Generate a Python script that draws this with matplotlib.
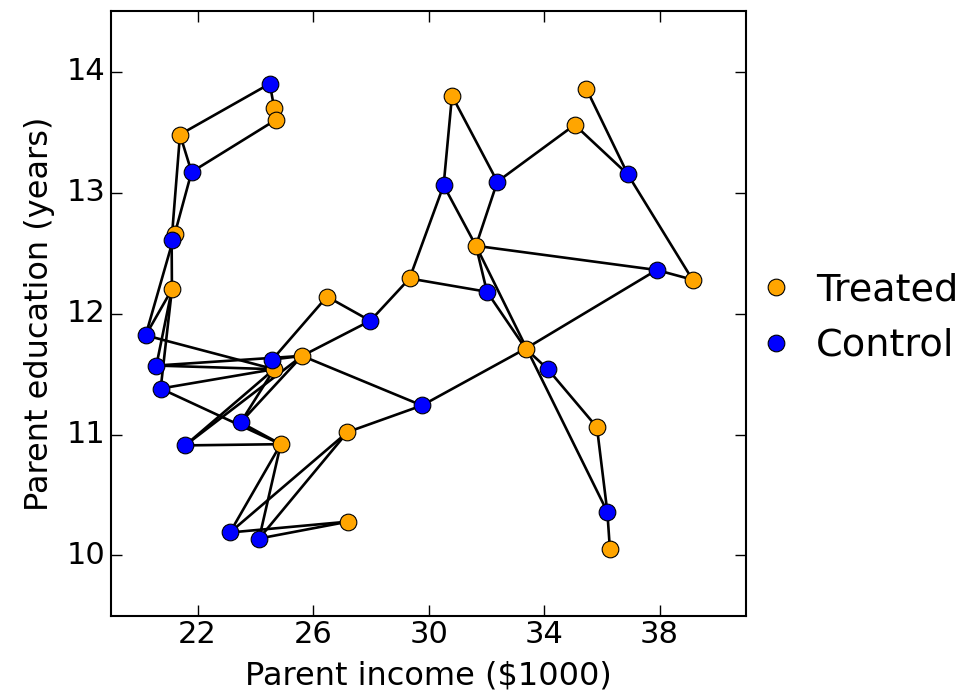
import matplotlib
matplotlib.use('Agg')
import matplotlib.pyplot as plt

plt.style.use('classic')

# treated units (income in $1000, education in years)
treated_income = [21.39, 24.65, 24.70, 21.21, 21.11, 26.48, 25.62, 24.65, 24.88, 27.19,
                  27.22, 29.34, 30.81, 31.64, 35.06, 35.46, 39.14, 33.36, 35.83, 36.28]
treated_educ = [13.48, 13.70, 13.60, 12.66, 12.20, 12.14, 11.65, 11.54, 10.92, 11.02,
                10.28, 12.29, 13.80, 12.56, 13.56, 13.86, 12.28, 11.71, 11.06, 10.05]

# control units
control_income = [24.50, 21.79, 21.10, 20.20, 20.57, 20.72, 24.59, 23.49, 21.57, 23.12,
                  24.13, 27.98, 29.77, 30.52, 32.38, 32.02, 36.90, 37.90, 34.13, 36.19]
control_educ = [13.90, 13.17, 12.61, 11.82, 11.57, 11.38, 11.62, 11.10, 10.91, 10.19,
                10.14, 11.94, 11.24, 13.06, 13.09, 12.18, 13.15, 12.36, 11.54, 10.36]

# matches: treated index -> control indices
matches = {
    0: [0, 1, 2],
    1: [0],
    2: [1],
    3: [1, 3],
    4: [2, 3, 4, 5],
    5: [6, 11],
    6: [4, 6, 7, 8, 11, 12],
    7: [3, 4, 5, 7, 8],
    8: [5, 7, 8, 9, 10],
    9: [9, 10, 12],
    10: [9, 10],
    11: [11, 13, 15],
    12: [13, 14],
    13: [13, 14, 15, 17, 19],
    14: [14, 16],
    15: [16],
    16: [16, 17],
    17: [12, 15, 17, 18],
    18: [18, 19],
    19: [19],
}

fig = plt.figure(figsize=(9.78, 6.96), dpi=100, facecolor='white')
ax = fig.add_axes([0.1135, 0.115, 0.6495, 0.869])
ax.set_facecolor('white')

for t, cs in matches.items():
    for c in cs:
        ax.plot([treated_income[t], control_income[c]], [treated_educ[t], control_educ[c]],
                color='black', lw=1.9, zorder=1)

ax.plot(treated_income, treated_educ, 'o', color='orange', mec='black', mew=0.8,
        ms=12, label='Treated', zorder=3)
ax.plot(control_income, control_educ, 'o', color='blue', mec='black', mew=0.8,
        ms=12, label='Control', zorder=3)

ax.set_xlim(19, 41)
ax.set_ylim(9.5, 14.5)
ax.set_xticks([22, 26, 30, 34, 38])
ax.set_yticks([10, 11, 12, 13, 14])
ax.tick_params(labelsize=22, length=8, width=1)
ax.tick_params(axis='x', pad=3)
for s in ax.spines.values():
    s.set_linewidth(1.5)
ax.set_xlabel('Parent income ($1000)', fontsize=23, labelpad=8)
ax.set_ylabel('Parent education (years)', fontsize=23, labelpad=8)

ax.legend(loc='center left', bbox_to_anchor=(1.0, 0.492), numpoints=1, frameon=False,
          fontsize=27.5, handlelength=1.0, handletextpad=0.55, labelspacing=0.5,
          borderaxespad=0.0, borderpad=0.27)

fig.savefig('out.png', dpi=100, facecolor='white')
